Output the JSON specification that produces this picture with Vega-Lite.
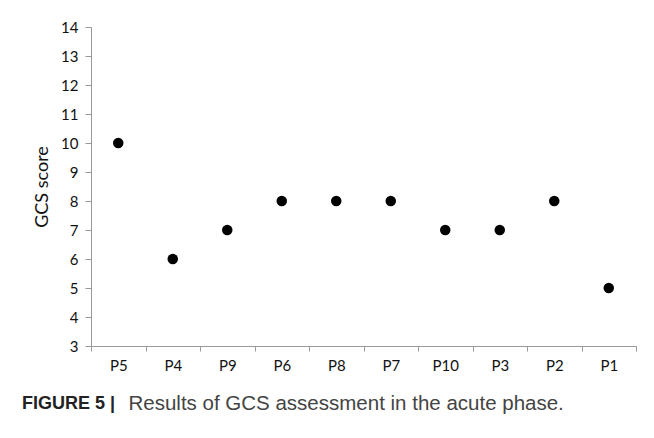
{
  "$schema": "https://vega.github.io/schema/vega-lite/v6.json",
  "width": 545,
  "height": 319,
  "autosize": {"type": "none"},
  "padding": {"left": 91, "top": 27, "right": 18, "bottom": 92},
  "background": "white",
  "data": {
    "values": [
      {"patient": "P5", "gcs": 10},
      {"patient": "P4", "gcs": 6},
      {"patient": "P9", "gcs": 7},
      {"patient": "P6", "gcs": 8},
      {"patient": "P8", "gcs": 8},
      {"patient": "P7", "gcs": 8},
      {"patient": "P10", "gcs": 7},
      {"patient": "P3", "gcs": 7},
      {"patient": "P2", "gcs": 8},
      {"patient": "P1", "gcs": 5}
    ]
  },
  "title": {
    "text": "FIGURE 5 |",
    "orient": "bottom",
    "anchor": "start",
    "frame": "group",
    "font": "Liberation Sans",
    "fontSize": 18,
    "fontWeight": "bold",
    "color": "#222222",
    "baseline": "alphabetic",
    "offset": 0,
    "dx": -69,
    "dy": -5
  },
  "mark": {"type": "point", "filled": true, "color": "black", "opacity": 1, "size": 110},
  "encoding": {
    "x": {
      "field": "patient",
      "type": "nominal",
      "sort": null,
      "scale": {"type": "band", "paddingInner": 0, "paddingOuter": 0},
      "axis": {
        "title": "Results of GCS assessment in the acute phase.",
        "titleFont": "Liberation Sans",
        "titleFontSize": 20.5,
        "titleFontWeight": "normal",
        "titleColor": "#444444",
        "titleAnchor": "start",
        "titleAlign": "left",
        "titleBaseline": "alphabetic",
        "titleX": 37,
        "titleY": 63,
        "labelAngle": 0,
        "labelFont": "Lato",
        "labelFontSize": 15,
        "labelColor": "#111111",
        "labelPadding": 7,
        "tickBand": "extent",
        "tickSize": 5,
        "tickColor": "#999999",
        "domainColor": "#999999",
        "grid": false
      }
    },
    "y": {
      "field": "gcs",
      "type": "quantitative",
      "scale": {"domain": [3, 14], "nice": false, "zero": false},
      "axis": {
        "title": "GCS score",
        "titleFont": "Lato",
        "titleFontSize": 18,
        "titleFontWeight": "normal",
        "titleColor": "#111111",
        "titlePadding": 9,
        "values": [3, 4, 5, 6, 7, 8, 9, 10, 11, 12, 13, 14],
        "labelFont": "Lato",
        "labelFontSize": 15,
        "labelColor": "#111111",
        "labelPadding": 7,
        "tickSize": 6,
        "tickColor": "#999999",
        "domainColor": "#999999",
        "grid": false
      }
    }
  },
  "config": {"view": {"stroke": null}}
}
